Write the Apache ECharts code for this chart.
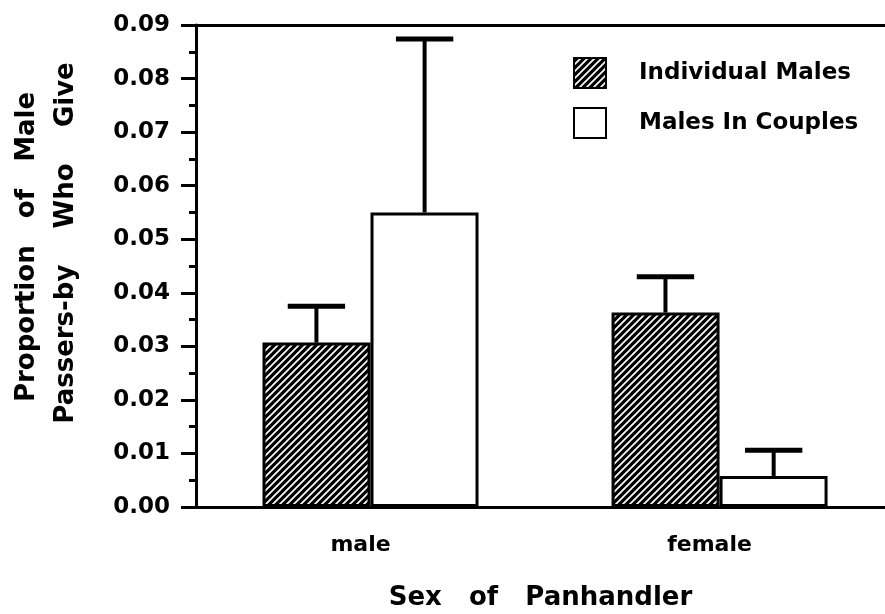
<!DOCTYPE html>
<html>
<head>
<meta charset="utf-8">
<script src="https://cdn.jsdelivr.net/npm/echarts@6/dist/echarts.min.js"></script>
<style>
html,body{margin:0;padding:0;background:#fff;}
#chart{width:885px;height:614px;}
</style>
</head>
<body>
<div id="chart"></div>
<script>
// ---- data ----
const categories = ['male', 'female'];
const seriesNames = ['Individual Males', 'Males In Couples'];
const individualMales = [0.0307, 0.0363];
const malesInCouples = [0.0550, 0.0058];
const individualErr = [0.0068, 0.0067];
const couplesErr = [0.0324, 0.0048];
const yTicks = ['0.00','0.01','0.02','0.03','0.04','0.05','0.06','0.07','0.08','0.09'];

// ---- hatch pattern ----
function makeHatch() {
  const s = 7;
  const c = document.createElement('canvas');
  c.width = s; c.height = s;
  const ctx = c.getContext('2d');
  ctx.fillStyle = '#000';
  ctx.fillRect(0, 0, s, s);
  ctx.strokeStyle = '#fff';
  ctx.lineWidth = 1.7;
  ctx.beginPath();
  ctx.moveTo(0, s); ctx.lineTo(s, 0);
  ctx.moveTo(-s / 2, s / 2); ctx.lineTo(s / 2, -s / 2);
  ctx.moveTo(s / 2, s * 1.5); ctx.lineTo(s * 1.5, s / 2);
  ctx.stroke();
  return c;
}
const hatch = { image: makeHatch(), repeat: 'repeat' };

const FONT = 'DejaVu Sans';
const BAR_FRAC = 0.31;
const X_MIN = -0.5;
const X_MAX = 1.474;

function pairs(vals) { return vals.map((v, i) => [i, v]); }
function errData(vals, errs) { return vals.map((v, i) => [i, v, errs[i]]); }

function errRender(side) {
  return function (params, api) {
    const idx = api.value(0);
    const v = api.value(1);
    const e = api.value(2);
    const base = api.coord([idx, v]);
    const top = api.coord([idx, v + e]);
    const band = api.size([1, 0])[0];
    const off = side * band * BAR_FRAC / 2;
    const cx = base[0] + off;
    const half = band * BAR_FRAC * 0.265;
    return {
      type: 'group',
      children: [
        { type: 'line', shape: { x1: cx, y1: base[1], x2: cx, y2: top[1] },
          style: { stroke: '#000', lineWidth: 4 } },
        { type: 'line', shape: { x1: cx - half, y1: top[1], x2: cx + half, y2: top[1] },
          style: { stroke: '#000', lineWidth: 5 } }
      ]
    };
  };
}

const chart = echarts.init(document.getElementById('chart'));
chart.setOption({
  backgroundColor: '#fff',
  animation: false,
  grid: { left: 196, top: 25, right: 0, bottom: 107, outerBoundsMode: 'none', containLabel: false },
  legend: {
    data: seriesNames,
    orient: 'vertical',
    left: 573, top: 57, padding: 0,
    icon: 'rect',
    itemWidth: 32, itemHeight: 30, itemGap: 18,
    textStyle: { fontFamily: FONT, fontWeight: 'bold', fontSize: 23, color: '#000', padding: [0, 0, 0, 28] }
  },
  xAxis: [{
    type: 'value',
    min: X_MIN, max: X_MAX,
    position: 'bottom',
    axisLine: { onZero: false, lineStyle: { color: '#000', width: 3 } },
    axisTick: { show: false },
    splitLine: { show: false },
    axisLabel: {
      customValues: [0, 1],
      formatter: function (v) { return categories[Math.round(v)]; },
      fontFamily: FONT, fontWeight: 'bold', fontSize: 22, color: '#000', margin: 27,
      padding: [0, 20, 0, 0]
    },
    name: 'Sex   of   Panhandler',
    nameLocation: 'middle',
    nameGap: 78,
    nameTextStyle: { fontFamily: FONT, fontWeight: 'bold', fontSize: 26, color: '#000' }
  }, {
    type: 'value',
    min: X_MIN, max: X_MAX,
    position: 'top',
    axisLine: { show: true, onZero: false, lineStyle: { color: '#000', width: 3 } },
    axisTick: { show: false },
    splitLine: { show: false },
    axisLabel: { show: false }
  }],
  yAxis: {
    type: 'value',
    min: 0, max: 0.09, interval: 0.01,
    position: 'left',
    axisLine: { show: true, onZero: false, lineStyle: { color: '#000', width: 3 } },
    axisTick: { show: true, length: 15, lineStyle: { color: '#000', width: 3 } },
    minorTick: { show: true, splitNumber: 2, length: 7, lineStyle: { color: '#000', width: 3 } },
    splitLine: { show: false },
    axisLabel: {
      fontFamily: FONT, fontWeight: 'bold', fontSize: 23, color: '#000', margin: 26,
      formatter: function (v) { return yTicks[Math.round(v * 100)]; }
    }
  },
  graphic: [
    { type: 'text', x: 27, y: 247, rotation: Math.PI / 2,
      style: { text: 'Proportion   of   Male', font: 'bold 26px "DejaVu Sans"', fill: '#000', align: 'center', verticalAlign: 'middle' } },
    { type: 'text', x: 66, y: 243, rotation: Math.PI / 2,
      style: { text: 'Passers-by    Who    Give', font: 'bold 26px "DejaVu Sans"', fill: '#000', align: 'center', verticalAlign: 'middle' } }
  ],
  series: [{
    name: seriesNames[0],
    type: 'bar',
    data: pairs(individualMales),
    barWidth: 108,
    barGap: '0%',
    itemStyle: { color: hatch, borderColor: '#000', borderWidth: 3 }
  }, {
    name: seriesNames[1],
    type: 'bar',
    data: pairs(malesInCouples),
    barWidth: 108,
    barGap: '0%',
    itemStyle: { color: '#fff', borderColor: '#000', borderWidth: 3 }
  }, {
    type: 'custom',
    renderItem: errRender(-1),
    data: errData(individualMales, individualErr),
    encode: { x: 0, y: 1 },
    z: 5
  }, {
    type: 'custom',
    renderItem: errRender(1),
    data: errData(malesInCouples, couplesErr),
    encode: { x: 0, y: 1 },
    z: 5
  }]
});
</script>
</body>
</html>
